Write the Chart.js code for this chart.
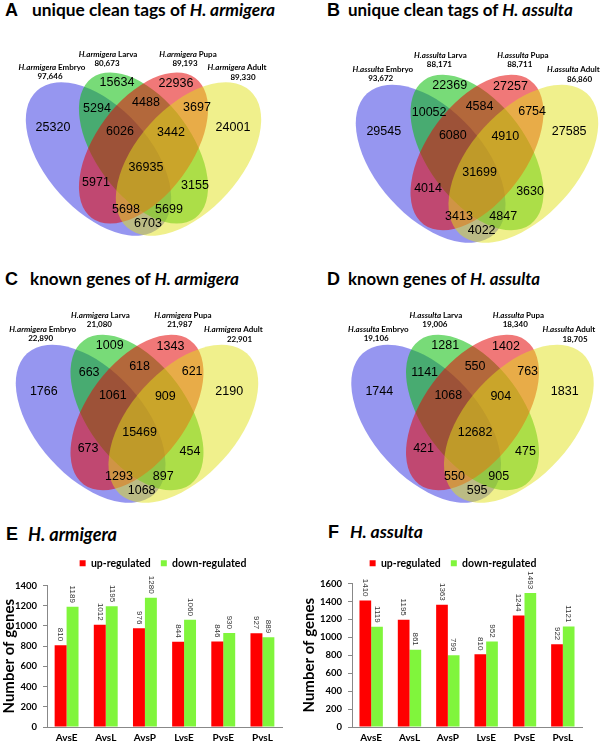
<!DOCTYPE html>
<html>
<head>
<meta charset="utf-8">
<script src="https://cdn.jsdelivr.net/npm/chart.js@4.4.1/dist/chart.umd.min.js"></script>
<style>
body { margin: 0; width: 600px; height: 749px; position: relative; overflow: hidden; background: #fff; }
canvas { position: absolute; }
.t { position: absolute; white-space: nowrap; font-weight: bold; line-height: 20px; color: #000; }
.L { font-family: "Liberation Sans", Arial, sans-serif; font-size: 18px; }
.T { font-family: Lato, sans-serif; font-size: 16px; }
</style>
</head>
<body>
<div class="t L" style="left:5px;top:0px">A</div>
<div class="t T" data-w="243" style="left:32px;top:0px">unique clean tags of <i>H. armigera</i></div>
<div class="t L" style="left:327px;top:0px">B</div>
<div class="t T" data-w="225" style="left:348px;top:0px">unique clean tags of <i>H. assulta</i></div>
<div class="t L" style="left:5px;top:269px">C</div>
<div class="t T" data-w="209" style="left:30px;top:269px">known genes of <i>H. armigera</i></div>
<div class="t L" style="left:327px;top:269px">D</div>
<div class="t T" data-w="192" style="left:348px;top:269px">known genes of <i>H. assulta</i></div>
<div class="t L" style="left:6px;top:524px">E</div>
<div class="t T" data-w="89" style="left:28px;top:524px"><i>H. armigera</i></div>
<div class="t L" style="left:328px;top:522px">F</div>
<div class="t T" data-w="73" style="left:350px;top:522px"><i>H. assulta</i></div>

<canvas id="vennA" width="300" height="215" style="left:0;top:30px"></canvas>
<canvas id="vennB" width="300" height="220" style="left:300px;top:30px"></canvas>
<canvas id="vennC" width="300" height="215" style="left:0;top:295px"></canvas>
<canvas id="vennD" width="300" height="215" style="left:300px;top:295px"></canvas>
<canvas id="barE" width="300" height="199" style="left:0;top:550px"></canvas>
<canvas id="barF" width="300" height="199" style="left:300px;top:550px"></canvas>

<script>
// ---- data ----
const stages = ['Embryo', 'Larva', 'Pupa', 'Adult'];
// region order: E, L, P, A, EL, LP, PA, ELP, LPA, ELPA, EP, LA, EPA, ELA, EA
const tagsArmigera = [25320, 15634, 22936, 24001, 5294, 4488, 3697, 6026, 3442, 36935, 5971, 3155, 5698, 5699, 6703];
const tagsAssulta = [29545, 22369, 27257, 27585, 10052, 4584, 6754, 6080, 4910, 31699, 4014, 3630, 3413, 4847, 4022];
const genesArmigera = [1766, 1009, 1343, 2190, 663, 618, 621, 1061, 909, 15469, 673, 454, 1293, 897, 1068];
const genesAssulta = [1744, 1281, 1402, 1831, 1141, 550, 763, 1068, 904, 12682, 421, 475, 550, 905, 595];
const totalTagsArmigera = [97646, 80673, 89193, 89330];
const totalTagsAssulta = [93672, 88171, 88711, 86860];
const totalGenesArmigera = [22890, 21080, 21987, 22901];
const totalGenesAssulta = [19106, 19006, 18340, 18705];

const comparisons = ['AvsE', 'AvsL', 'AvsP', 'LvsE', 'PvsE', 'PvsL'];
const upArmigera = [810, 1012, 976, 844, 846, 927];
const downArmigera = [1189, 1195, 1280, 1060, 930, 889];
const upAssulta = [1410, 1195, 1363, 810, 1244, 922];
const downAssulta = [1119, 861, 799, 952, 1493, 1121];

// ---- venn layout (relative to the diagram's axis) ----
const regionPos = [
  [-90.5, -22], [-26.5, -67], [32.5, -66], [89.5, -22],
  [-46.5, -41], [2.5, -47], [53.5, -42],
  [-23.5, -18], [27.5, -17], [2.5, 18],
  [-47.5, 33], [51.5, 36], [-17.5, 60], [25.5, 60], [4.5, 74]
];
const namePos = [[-91.5, -83], [-35.5, -96], [44.5, -96], [93.5, -83]];
const totalPos = [[-93.5, -74], [-36.5, -87], [41.5, -87], [99.5, -73]];
const ellipses = [
  { cx: -45, cy: 9, a: 92, b: 52, rot: 48, color: 'rgba(45,45,225,0.5)' },
  { cx: 0, cy: -2, a: 87, b: 48, rot: 53.5, color: 'rgba(10,190,10,0.55)' },
  { cx: 0, cy: -2, a: 87, b: 48, rot: -53.5, color: 'rgba(227,9,9,0.55)' },
  { cx: 45, cy: 9, a: 92, b: 52, rot: -48, color: 'rgba(225,225,25,0.5)' }
];

const vennPlugin = {
  id: 'venn',
  beforeDatasetsDraw(chart, args, opts) {
    const { ctx, scales: { x, y } } = chart;
    const k = x.getPixelForValue(1) - x.getPixelForValue(0);
    ctx.save();
    ellipses.forEach(e => {
      ctx.beginPath();
      ctx.ellipse(x.getPixelForValue(opts.ax + opts.s * e.cx), y.getPixelForValue(opts.ay + opts.s * e.cy),
        e.a * opts.s * k, e.b * opts.s * k, e.rot * Math.PI / 180, 0, Math.PI * 2);
      ctx.fillStyle = e.color;
      ctx.fill();
    });
    ctx.restore();
  },
  afterDatasetsDraw(chart, args, opts) {
    const ctx = chart.ctx;
    ctx.save();
    ctx.textBaseline = 'middle';
    ctx.fillStyle = '#000';
    // region counts
    ctx.textAlign = 'center';
    ctx.font = '12.5px "Liberation Sans", Arial';
    const ds0 = chart.data.datasets[0];
    chart.getDatasetMeta(0).data.forEach((p, i) => ctx.fillText(String(ds0.counts[i]), p.x, p.y));
    // set names
    const ds1 = chart.data.datasets[1];
    chart.getDatasetMeta(1).data.forEach((p, i) => {
      const sp = ds1.species + ' ', st = stages[i];
      ctx.font = 'italic bold 8px Lato';
      const w1 = ctx.measureText(sp).width;
      ctx.font = 'bold 8px Lato';
      const w2 = ctx.measureText(st).width;
      const x0 = p.x - (w1 + w2) / 2;
      ctx.textAlign = 'left';
      ctx.font = 'italic bold 8px Lato';
      ctx.fillText(sp, x0, p.y);
      ctx.font = 'bold 8px Lato';
      ctx.fillText(st, x0 + w1, p.y);
    });
    // set totals
    const ds2 = chart.data.datasets[2];
    ctx.textAlign = 'center';
    ctx.font = 'bold 8px Lato';
    chart.getDatasetMeta(2).data.forEach((p, i) => ctx.fillText(ds2.totals[i].toLocaleString('en-US'), p.x, p.y));
    ctx.restore();
  }
};

function venn(id, left, top, w, h, ax, ay, s, species, counts, totals) {
  const pt = ([rx, ry]) => ({ x: ax + s * rx, y: ay + s * ry });
  new Chart(document.getElementById(id), {
    type: 'scatter',
    data: {
      datasets: [
        { data: regionPos.map(pt), counts: counts, pointRadius: 0 },
        { data: namePos.map(pt), species: species, pointRadius: 0 },
        { data: totalPos.map(pt), totals: totals, pointRadius: 0 }
      ]
    },
    options: {
      responsive: false,
      animation: false,
      layout: { padding: 0 },
      plugins: { legend: { display: false }, tooltip: { enabled: false }, venn: { ax: ax, ay: ay, s: s } },
      scales: {
        x: { type: 'linear', min: left, max: left + w, display: false },
        y: { type: 'linear', min: top, max: top + h, reverse: true, display: false }
      }
    },
    plugins: [vennPlugin]
  });
}

venn('vennA', 0, 30, 300, 215, 143.5, 150, 1.0, 'H.armigera', tagsArmigera, totalTagsArmigera);
venn('vennB', 300, 30, 300, 220, 477, 154.5, 1.03, 'H.assulta', tagsAssulta, totalTagsAssulta);
venn('vennC', 0, 295, 300, 215, 137, 414.5, 1.03, 'H.armigera', genesArmigera, totalGenesArmigera);
venn('vennD', 300, 295, 300, 215, 472.5, 414.5, 1.03, 'H.assulta', genesAssulta, totalGenesAssulta);

// ---- bar charts ----
const barValues = {
  id: 'barValues',
  afterDatasetsDraw(chart) {
    const ctx = chart.ctx;
    ctx.save();
    ctx.font = '8px "Liberation Sans", Arial';
    ctx.fillStyle = '#333';
    ctx.textAlign = 'right';
    ctx.textBaseline = 'middle';
    chart.data.datasets.forEach((ds, i) => {
      chart.getDatasetMeta(i).data.forEach((bar, j) => {
        ctx.save();
        ctx.translate(bar.x, bar.y - 4);
        ctx.rotate(Math.PI / 2);
        ctx.fillText(String(ds.data[j]), 0, 0);
        ctx.restore();
      });
    });
    ctx.restore();
  }
};

const legendShift = {
  id: 'legendShift',
  afterLayout(chart, args, opts) {
    const lg = chart.legend;
    const w = lg.right - lg.left, h = lg.bottom - lg.top;
    lg.left = opts.cx - w / 2; lg.right = lg.left + w;
    lg.top = opts.cy - 16; lg.bottom = lg.top + h;
  }
};

function bars(id, up, down, yMax, axisW, legendX, topPad) {
  new Chart(document.getElementById(id), {
    type: 'bar',
    data: {
      labels: comparisons,
      datasets: [
        { label: 'up-regulated', data: up, backgroundColor: 'rgb(255,0,0)' },
        { label: 'down-regulated', data: down, backgroundColor: 'rgb(128,245,60)' }
      ]
    },
    options: {
      responsive: false,
      animation: false,
      layout: { padding: { top: topPad, right: 18, left: 0, bottom: 0 } },
      datasets: { bar: { categoryPercentage: 0.61, barPercentage: 1.0 } },
      plugins: {
        legend: {
          labels: { boxWidth: 6, boxHeight: 6, padding: 10, color: '#000', font: { family: 'Lato', weight: 'bold', size: 10.5 } }
        },
        tooltip: { enabled: false },
        legendShift: { cx: legendX, cy: 14 }
      },
      scales: {
        x: {
          grid: { display: false, drawTicks: false },
          border: { color: '#888' },
          ticks: { color: '#000', padding: 5, font: { family: 'Lato', weight: 'bold', size: 10 } }
        },
        y: {
          min: 0, max: yMax,
          ticks: { stepSize: 200, color: '#000', padding: 6, font: { family: 'Lato', weight: 'bold', size: 9.5 },
            callback: v => String(v) },
          grid: { drawOnChartArea: false, tickLength: 4, color: '#888' },
          border: { color: '#888' },
          title: { display: true, text: 'Number of genes', color: '#000', padding: 0, font: { family: 'Lato', weight: 'bold', size: 15 } },
          afterFit(scale) { scale.width = axisW; }
        }
      }
    },
    plugins: [barValues, legendShift]
  });
}

bars('barE', upArmigera, downArmigera, 1400, 47, 163, 5);
bars('barF', upAssulta, downAssulta, 1600, 52, 153, 3);

// fit title widths
document.querySelectorAll('.T').forEach(el => {
  const target = +el.dataset.w;
  const w = el.getBoundingClientRect().width;
  el.style.fontSize = (16 * target / w).toFixed(2) + 'px';
});
</script>
</body>
</html>
